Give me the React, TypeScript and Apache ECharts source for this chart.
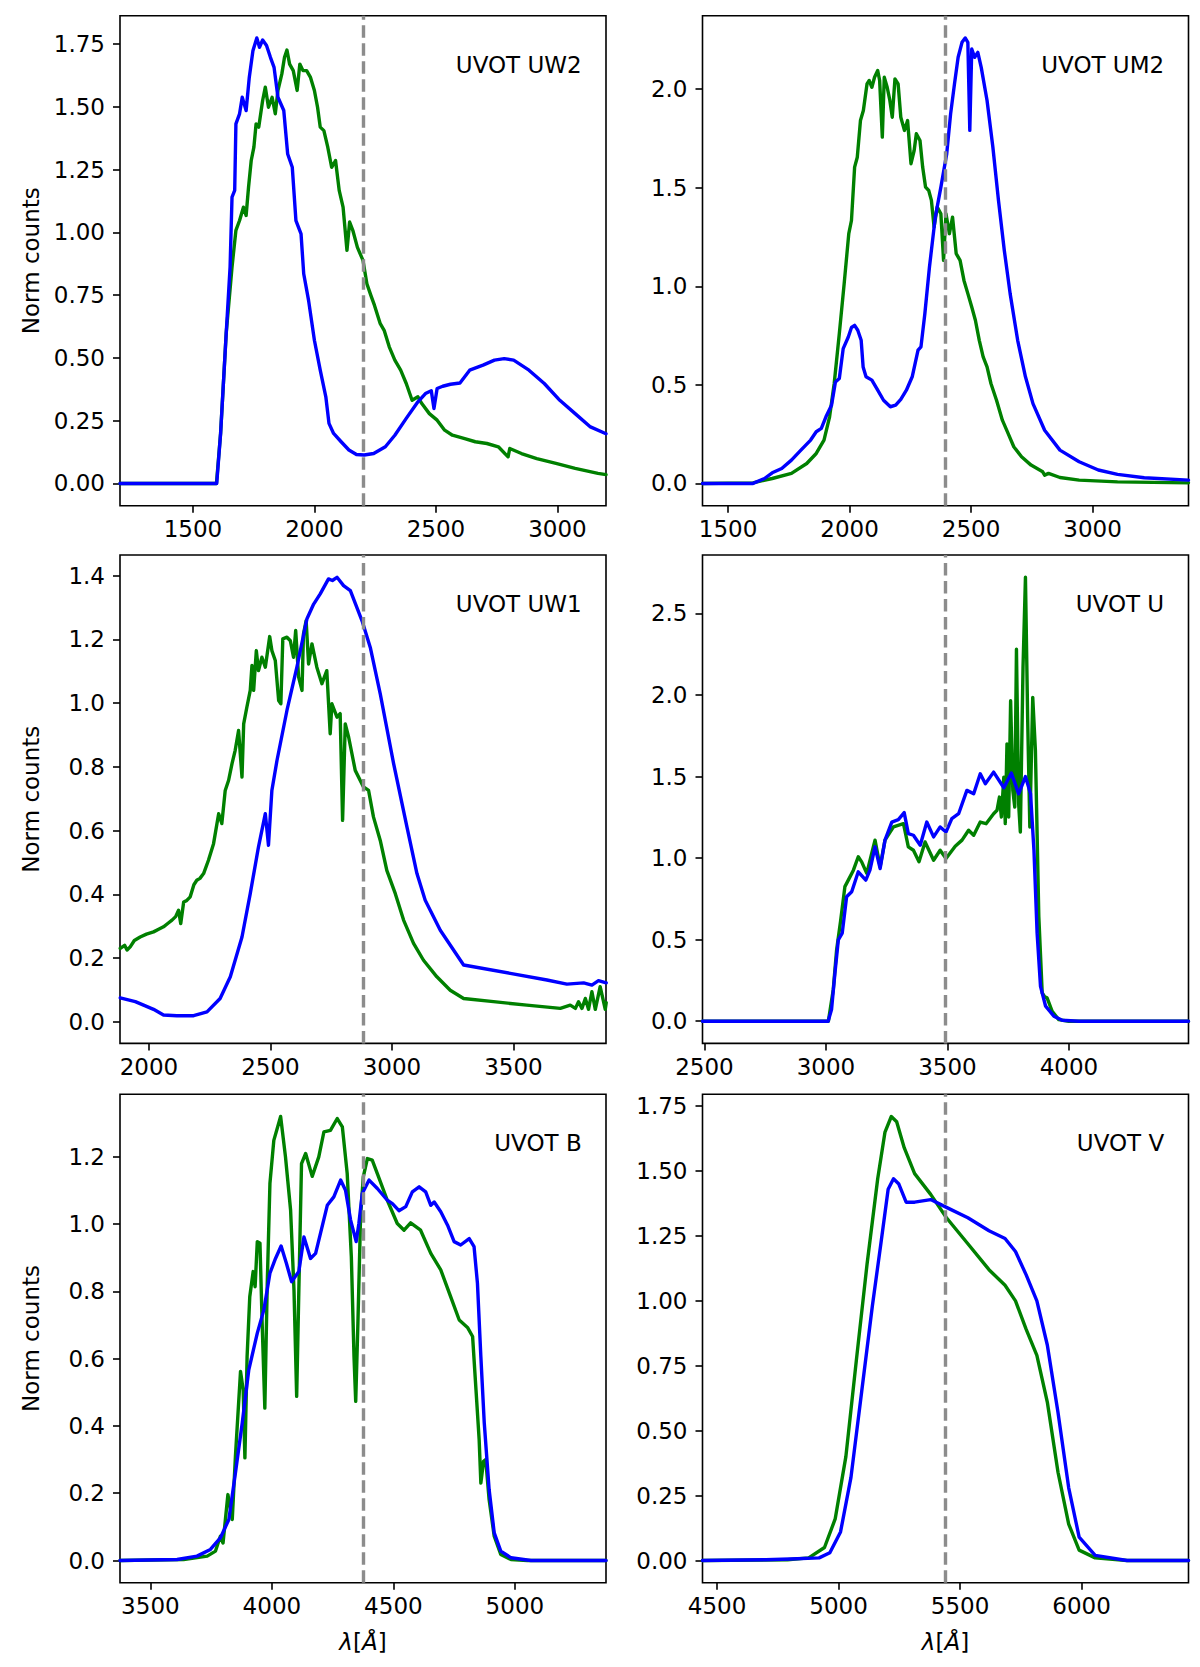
import React, { useEffect, useRef } from "react";
import * as echarts from "echarts";

type Pt = [number, number];

// ---------- panel descriptors ----------
const panelNames = ["UVOT UW2", "UVOT UM2", "UVOT UW1", "UVOT U", "UVOT B", "UVOT V"];
const centerWave = [2200, 2395, 2881, 3492, 4375, 5440];
const halfSpan = 1000;
const yMinValues = [-0.0887, -0.113, -0.068, -0.136, -0.066, -0.0855];
const yMaxValues = [1.8627, 2.373, 1.465, 2.858, 1.386, 1.7955];
const xTickValues = [
  [1500, 2000, 2500, 3000],
  [1500, 2000, 2500, 3000],
  [2000, 2500, 3000, 3500],
  [2500, 3000, 3500, 4000],
  [3500, 4000, 4500, 5000],
  [4500, 5000, 5500, 6000],
];
const yTickValues = [
  [0, 0.25, 0.5, 0.75, 1.0, 1.25, 1.5, 1.75],
  [0, 0.5, 1.0, 1.5, 2.0],
  [0, 0.2, 0.4, 0.6, 0.8, 1.0, 1.2, 1.4],
  [0, 0.5, 1.0, 1.5, 2.0, 2.5],
  [0, 0.2, 0.4, 0.6, 0.8, 1.0, 1.2],
  [0, 0.25, 0.5, 0.75, 1.0, 1.25, 1.5, 1.75],
];
const yDecimals = [2, 1, 1, 1, 1, 2];

// ---------- UW2 ----------
const uw2Green: Pt[] = [
  [1200, 0], [1597, 0], [1614, 0.199], [1637, 0.597], [1661, 0.862], [1677, 1.008], [1692, 1.047],
  [1708, 1.1], [1719, 1.067], [1729, 1.18], [1740, 1.286], [1751, 1.339], [1760, 1.432], [1771, 1.419],
  [1787, 1.525], [1798, 1.578], [1811, 1.498], [1826, 1.538], [1839, 1.472], [1850, 1.565], [1866, 1.631],
  [1877, 1.697], [1887, 1.726], [1898, 1.67], [1913, 1.644], [1929, 1.565], [1940, 1.67], [1953, 1.644],
  [1968, 1.644], [1984, 1.617], [2000, 1.565], [2013, 1.498], [2024, 1.419], [2039, 1.405], [2055, 1.339],
  [2071, 1.259], [2087, 1.286], [2102, 1.167], [2118, 1.1], [2134, 0.928], [2145, 1.041], [2158, 1.008],
  [2177, 0.94], [2200, 0.888], [2216, 0.795], [2232, 0.75], [2247, 0.71], [2271, 0.636], [2287, 0.61],
  [2308, 0.544], [2331, 0.491], [2355, 0.451], [2378, 0.398], [2402, 0.331], [2426, 0.345], [2442, 0.318],
  [2473, 0.278], [2505, 0.252], [2536, 0.212], [2568, 0.192], [2615, 0.179], [2662, 0.166], [2710, 0.159],
  [2757, 0.146], [2797, 0.106], [2804, 0.139], [2852, 0.119], [2915, 0.099], [2994, 0.08], [3073, 0.06],
  [3167, 0.04], [3200, 0.035],
];
const uw2Blue: Pt[] = [
  [1200, 0], [1598, 0], [1614, 0.199], [1637, 0.597], [1653, 0.862], [1661, 1.14], [1672, 1.167],
  [1677, 1.432], [1692, 1.472], [1703, 1.538], [1719, 1.485], [1732, 1.617], [1747, 1.723], [1763, 1.774],
  [1774, 1.737], [1787, 1.766], [1803, 1.744], [1819, 1.697], [1834, 1.657], [1850, 1.538], [1874, 1.485],
  [1890, 1.312], [1909, 1.259], [1924, 1.047], [1945, 0.994], [1956, 0.835], [1976, 0.729], [2000, 0.57],
  [2024, 0.451], [2047, 0.345], [2060, 0.239], [2079, 0.199], [2110, 0.166], [2142, 0.133], [2173, 0.115],
  [2205, 0.113], [2244, 0.119], [2292, 0.146], [2331, 0.192], [2378, 0.259], [2426, 0.325], [2457, 0.358],
  [2481, 0.369], [2492, 0.298], [2505, 0.378], [2528, 0.387], [2560, 0.395], [2599, 0.4], [2639, 0.451],
  [2694, 0.471], [2741, 0.491], [2781, 0.497], [2820, 0.491], [2883, 0.451], [2946, 0.398], [3010, 0.331],
  [3073, 0.278], [3136, 0.225], [3200, 0.198],
];

// ---------- UM2 ----------
const um2Green: Pt[] = [
  [1395, 0], [1603, 0.003], [1682, 0.025], [1761, 0.051], [1824, 0.101], [1863, 0.152], [1895, 0.22],
  [1918, 0.338], [1937, 0.507], [1958, 0.76], [1978, 1.014], [1997, 1.267], [2008, 1.334], [2021, 1.605],
  [2032, 1.655], [2045, 1.841], [2057, 1.892], [2072, 2.027], [2081, 2.044], [2092, 2.01], [2103, 2.061],
  [2116, 2.095], [2124, 2.044], [2135, 1.757], [2143, 2.061], [2155, 2.01], [2166, 1.943], [2176, 1.858],
  [2187, 2.052], [2200, 2.027], [2211, 1.858], [2226, 1.791], [2239, 1.841], [2253, 1.622], [2266, 1.689],
  [2275, 1.774], [2290, 1.74], [2301, 1.605], [2313, 1.503], [2326, 1.486], [2337, 1.436], [2348, 1.301],
  [2361, 1.402], [2376, 1.368], [2387, 1.132], [2397, 1.368], [2411, 1.267], [2424, 1.351], [2439, 1.166],
  [2455, 1.132], [2471, 1.03], [2487, 0.963], [2503, 0.895], [2518, 0.828], [2534, 0.726], [2550, 0.642],
  [2566, 0.591], [2582, 0.507], [2605, 0.422], [2629, 0.321], [2653, 0.253], [2676, 0.186], [2708, 0.135],
  [2747, 0.093], [2795, 0.059], [2803, 0.042], [2819, 0.051], [2866, 0.03], [2945, 0.017], [3103, 0.008],
  [3395, 0.003],
];
const um2Blue: Pt[] = [
  [1395, 0], [1603, 0], [1650, 0.025], [1682, 0.054], [1721, 0.076], [1761, 0.118], [1800, 0.169],
  [1840, 0.22], [1863, 0.262], [1884, 0.279], [1903, 0.338], [1926, 0.397], [1942, 0.515], [1958, 0.532],
  [1974, 0.684], [1995, 0.743], [2008, 0.791], [2021, 0.802], [2034, 0.777], [2048, 0.726], [2056, 0.591],
  [2068, 0.541], [2092, 0.524], [2116, 0.473], [2140, 0.422], [2168, 0.389], [2190, 0.397], [2211, 0.426],
  [2234, 0.473], [2258, 0.541], [2282, 0.676], [2294, 0.693], [2310, 0.861], [2329, 1.098], [2353, 1.351],
  [2376, 1.503], [2400, 1.672], [2416, 1.875], [2432, 2.027], [2447, 2.162], [2463, 2.238], [2476, 2.26],
  [2487, 2.238], [2495, 1.791], [2503, 2.204], [2515, 2.162], [2528, 2.187], [2542, 2.111], [2566, 1.943],
  [2590, 1.706], [2613, 1.436], [2637, 1.182], [2661, 0.963], [2692, 0.726], [2724, 0.541], [2755, 0.405],
  [2803, 0.27], [2866, 0.169], [2945, 0.11], [3024, 0.068], [3103, 0.046], [3213, 0.029], [3395, 0.017],
];

// ---------- UW1 ----------
const uw1Green: Pt[] = [
  [1882, 0.23], [1900, 0.24], [1910, 0.225], [1923, 0.235], [1940, 0.255], [1964, 0.266], [1990, 0.275],
  [2019, 0.282], [2040, 0.29], [2060, 0.298], [2080, 0.31], [2095, 0.319], [2110, 0.33], [2122, 0.35],
  [2131, 0.308], [2143, 0.376], [2155, 0.38], [2170, 0.392], [2185, 0.43], [2197, 0.444], [2210, 0.45],
  [2225, 0.465], [2245, 0.507], [2266, 0.559], [2287, 0.653], [2300, 0.622], [2314, 0.726], [2328, 0.758],
  [2342, 0.81], [2355, 0.852], [2369, 0.914], [2383, 0.768], [2390, 0.935], [2403, 0.987], [2417, 1.04],
  [2424, 1.118], [2431, 1.04], [2442, 1.165], [2451, 1.102], [2465, 1.144], [2479, 1.113], [2497, 1.209],
  [2506, 1.165], [2520, 1.134], [2534, 1.008], [2543, 0.998], [2551, 1.202], [2568, 1.207], [2582, 1.196],
  [2595, 1.144], [2604, 1.228], [2616, 1.082], [2630, 1.04], [2636, 1.217], [2647, 1.259], [2657, 1.123],
  [2671, 1.186], [2691, 1.113], [2712, 1.061], [2732, 1.102], [2746, 0.904], [2753, 0.998], [2774, 0.956],
  [2787, 0.967], [2797, 0.632], [2808, 0.935], [2822, 0.893], [2849, 0.789], [2883, 0.737], [2904, 0.726],
  [2924, 0.643], [2952, 0.569], [2979, 0.475], [3014, 0.402], [3048, 0.319], [3089, 0.246], [3130, 0.193],
  [3185, 0.141], [3240, 0.099], [3295, 0.073], [3418, 0.063], [3555, 0.052], [3693, 0.042], [3734, 0.052],
  [3755, 0.042], [3768, 0.063], [3782, 0.042], [3796, 0.073], [3809, 0.039], [3823, 0.094], [3837, 0.039],
  [3857, 0.11], [3878, 0.039], [3882, 0.06],
];
const uw1Blue: Pt[] = [
  [1882, 0.075], [1944, 0.063], [1978, 0.052], [2019, 0.039], [2060, 0.021], [2115, 0.019], [2184, 0.019],
  [2239, 0.031], [2293, 0.073], [2335, 0.141], [2383, 0.266], [2417, 0.402], [2451, 0.549], [2479, 0.653],
  [2492, 0.554], [2506, 0.726], [2527, 0.82], [2568, 0.977], [2609, 1.113], [2650, 1.264], [2678, 1.311],
  [2705, 1.343], [2739, 1.39], [2755, 1.385], [2774, 1.395], [2801, 1.369], [2829, 1.353], [2879, 1.254],
  [2911, 1.175], [2952, 1.029], [3007, 0.81], [3062, 0.611], [3103, 0.465], [3137, 0.381], [3199, 0.287],
  [3295, 0.178], [3487, 0.152], [3638, 0.131], [3720, 0.118], [3789, 0.122], [3823, 0.115], [3850, 0.129],
  [3882, 0.122],
];

// ---------- U ----------
const uGreen: Pt[] = [
  [2492, 0], [3010, 0], [3030, 0.193], [3044, 0.438], [3060, 0.611], [3078, 0.825], [3092, 0.865],
  [3113, 0.926], [3133, 1.008], [3147, 0.977], [3168, 0.906], [3185, 1.008], [3202, 1.11], [3223, 0.947],
  [3243, 1.11], [3278, 1.191], [3319, 1.211], [3339, 1.069], [3360, 1.048], [3383, 0.977], [3408, 1.099],
  [3443, 0.987], [3470, 1.048], [3494, 0.998], [3532, 1.073], [3560, 1.11], [3587, 1.171], [3608, 1.14],
  [3635, 1.221], [3659, 1.211], [3690, 1.272], [3704, 1.293], [3714, 1.374], [3722, 1.252], [3732, 1.496],
  [3738, 1.211], [3745, 1.7], [3752, 1.252], [3760, 1.965], [3769, 1.415], [3777, 1.313], [3784, 2.28],
  [3793, 1.333], [3800, 1.16], [3811, 2.168], [3821, 2.722], [3830, 1.863], [3839, 1.191], [3851, 1.985],
  [3862, 1.659], [3876, 0.641], [3890, 0.173], [3900, 0.15], [3910, 0.143], [3931, 0.061], [3958, 0.01],
  [4000, 0], [4492, 0],
];
const uBlue: Pt[] = [
  [2492, 0], [3009, 0], [3023, 0.071], [3037, 0.295], [3051, 0.499], [3067, 0.54], [3085, 0.763],
  [3106, 0.794], [3133, 0.916], [3164, 0.865], [3181, 0.926], [3202, 1.069], [3223, 0.936], [3243, 1.11],
  [3271, 1.221], [3298, 1.236], [3322, 1.279], [3339, 1.15], [3360, 1.14], [3388, 1.079], [3415, 1.221],
  [3443, 1.13], [3470, 1.191], [3494, 1.16], [3518, 1.242], [3546, 1.272], [3580, 1.415], [3608, 1.394],
  [3635, 1.517], [3656, 1.456], [3690, 1.527], [3732, 1.431], [3763, 1.521], [3793, 1.394], [3821, 1.5],
  [3842, 1.394], [3856, 1.048], [3869, 0.54], [3883, 0.214], [3904, 0.092], [3938, 0.031], [3972, 0.006],
  [4041, 0], [4492, 0],
];

// ---------- B ----------
const bGreen: Pt[] = [
  [3375, 0], [3637, 0.003], [3734, 0.013], [3768, 0.028], [3788, 0.072], [3799, 0.052], [3819, 0.196],
  [3837, 0.122], [3850, 0.31], [3871, 0.562], [3882, 0.507], [3889, 0.305], [3898, 0.606], [3909, 0.784],
  [3923, 0.859], [3931, 0.814], [3940, 0.948], [3951, 0.943], [3960, 0.705], [3971, 0.453], [3981, 0.824],
  [3992, 1.121], [4008, 1.249], [4036, 1.32], [4056, 1.2], [4077, 1.042], [4091, 0.804], [4102, 0.488],
  [4111, 0.804], [4122, 1.18], [4139, 1.21], [4166, 1.142], [4193, 1.2], [4214, 1.274], [4241, 1.279],
  [4269, 1.314], [4290, 1.289], [4310, 1.15], [4327, 0.903], [4338, 0.606], [4345, 0.473], [4354, 0.705],
  [4365, 1.022], [4376, 1.14], [4393, 1.195], [4413, 1.19], [4434, 1.15], [4475, 1.071], [4516, 1.002],
  [4544, 0.982], [4571, 1.004], [4612, 0.982], [4654, 0.913], [4695, 0.864], [4736, 0.784], [4771, 0.715],
  [4805, 0.693], [4826, 0.666], [4840, 0.507], [4853, 0.359], [4860, 0.23], [4871, 0.295], [4880, 0.3],
  [4894, 0.181], [4915, 0.072], [4942, 0.018], [4984, 0.003], [5052, 0], [5375, 0],
];
const bBlue: Pt[] = [
  [3375, 0], [3610, 0.003], [3692, 0.013], [3747, 0.033], [3788, 0.067], [3823, 0.122], [3850, 0.26],
  [3878, 0.409], [3905, 0.567], [3940, 0.676], [3967, 0.745], [3992, 0.854], [4015, 0.898], [4038, 0.935],
  [4060, 0.883], [4081, 0.829], [4111, 0.859], [4132, 0.962], [4159, 0.898], [4180, 0.913], [4228, 1.056],
  [4255, 1.081], [4283, 1.131], [4303, 1.101], [4324, 1.012], [4347, 0.948], [4358, 1.002], [4372, 1.091],
  [4400, 1.131], [4434, 1.106], [4475, 1.071], [4496, 1.061], [4523, 1.04], [4551, 1.052], [4578, 1.096],
  [4606, 1.111], [4633, 1.096], [4654, 1.056], [4668, 1.066], [4695, 1.037], [4723, 0.997], [4750, 0.948],
  [4777, 0.938], [4812, 0.957], [4832, 0.933], [4846, 0.824], [4860, 0.606], [4874, 0.409], [4894, 0.211],
  [4915, 0.082], [4942, 0.028], [4984, 0.008], [5066, 0], [5375, 0],
];

// ---------- V ----------
const vGreen: Pt[] = [
  [4440, 0], [4790, 0.003], [4877, 0.01], [4942, 0.05], [4986, 0.16], [5030, 0.4], [5073, 0.77],
  [5117, 1.14], [5161, 1.47], [5191, 1.65], [5217, 1.71], [5239, 1.69], [5270, 1.59], [5313, 1.49],
  [5379, 1.41], [5444, 1.32], [5532, 1.22], [5619, 1.12], [5685, 1.06], [5728, 1.0], [5772, 0.89],
  [5816, 0.79], [5859, 0.61], [5903, 0.34], [5947, 0.14], [5990, 0.04], [6056, 0.01], [6187, 0], [6440, 0],
];
const vBlue: Pt[] = [
  [4440, 0], [4700, 0.003], [4800, 0.006], [4920, 0.01], [4964, 0.03], [5008, 0.11], [5051, 0.32],
  [5095, 0.65], [5139, 0.98], [5174, 1.22], [5204, 1.43], [5226, 1.47], [5248, 1.45], [5278, 1.38],
  [5313, 1.38], [5379, 1.39], [5444, 1.36], [5532, 1.32], [5619, 1.27], [5685, 1.24], [5728, 1.19],
  [5772, 1.1], [5816, 1.0], [5859, 0.83], [5903, 0.57], [5947, 0.28], [5990, 0.09], [6056, 0.02],
  [6187, 0], [6440, 0],
];

const greenSeries = [uw2Green, um2Green, uw1Green, uGreen, bGreen, vGreen];
const blueSeries = [uw2Blue, um2Blue, uw1Blue, uBlue, bBlue, vBlue];

// ---------- layout ----------
const W = 1200;
const H = 1667;
const colLeft = [120, 702.5];
const panelWidth = 486;
const rowTop = [15.7, 555, 1094.3];
const rowHeight = [490, 488.4, 488.4];
const FONT = "DejaVu Sans";
const FS = 23;
const LW = 3.4;

function buildOption() {
  const grid: any[] = [];
  const xAxis: any[] = [];
  const yAxis: any[] = [];
  const series: any[] = [];
  const graphic: any[] = [];

  for (let i = 0; i < 6; i++) {
    const col = i % 2;
    const row = Math.floor(i / 2);
    const left = colLeft[col];
    const top = rowTop[row];
    const height = rowHeight[row];
    grid.push({
      left,
      top,
      width: panelWidth,
      height,
      show: true,
      borderColor: "#000",
      borderWidth: 1.6,
      backgroundColor: "transparent",
      containLabel: false,
      outerBoundsMode: "none",
    });
    const c = centerWave[i];
    const xa: any = {
      type: "value",
      gridIndex: i,
      min: c - halfSpan,
      max: c + halfSpan,
      axisLine: { show: false, onZero: false },
      axisTick: {
        show: true,
        inside: false,
        length: 7,
        customValues: xTickValues[i],
        lineStyle: { color: "#000", width: 1.6 },
      },
      axisLabel: {
        show: true,
        customValues: xTickValues[i],
        formatter: (v: number) => String(v),
        fontSize: FS,
        color: "#000",
        fontFamily: FONT,
        margin: 12,
      },
      splitLine: { show: false },
    };
    if (row === 2) {
      xa.name = "{i|λ}[{i|Å}]";
      xa.nameLocation = "middle";
      xa.nameGap = 48;
      xa.nameTextStyle = {
        fontSize: FS,
        color: "#000",
        fontFamily: FONT,
        rich: { i: { fontStyle: "italic", fontSize: FS, color: "#000", fontFamily: FONT } },
      };
    }
    xAxis.push(xa);
    const dec = yDecimals[i];
    const ya: any = {
      type: "value",
      gridIndex: i,
      min: yMinValues[i],
      max: yMaxValues[i],
      axisLine: { show: false, onZero: false },
      axisTick: {
        show: true,
        inside: false,
        length: 7,
        customValues: yTickValues[i],
        lineStyle: { color: "#000", width: 1.6 },
      },
      axisLabel: {
        show: true,
        customValues: yTickValues[i],
        formatter: (v: number) => Number(v).toFixed(dec),
        fontSize: FS,
        color: "#000",
        fontFamily: FONT,
        margin: 15,
      },
      splitLine: { show: false },
    };
    if (col === 0) {
      ya.name = "Norm counts";
      ya.nameLocation = "middle";
      ya.nameGap = 78;
      ya.nameTextStyle = { fontSize: FS, color: "#000", fontFamily: FONT };
    }
    yAxis.push(ya);

    series.push({
      type: "line",
      xAxisIndex: i,
      yAxisIndex: i,
      data: greenSeries[i],
      showSymbol: false,
      symbol: "none",
      silent: true,
      clip: true,
      lineStyle: { color: "#008000", width: LW, join: "round", cap: "round" },
      itemStyle: { color: "#008000" },
      z: 2,
    });
    series.push({
      type: "line",
      xAxisIndex: i,
      yAxisIndex: i,
      data: blueSeries[i],
      showSymbol: false,
      symbol: "none",
      silent: true,
      clip: true,
      lineStyle: { color: "#0000ff", width: LW, join: "round", cap: "round" },
      itemStyle: { color: "#0000ff" },
      z: 3,
      markLine: {
        silent: true,
        symbol: ["none", "none"],
        animation: false,
        label: { show: false },
        lineStyle: { color: "#8c8c8c", type: [12.5, 5.5], width: LW, cap: "butt" },
        emphasis: { disabled: true },
        data: [{ xAxis: c }],
      },
    });

    graphic.push({
      type: "text",
      x: left + 0.95 * panelWidth,
      y: top + 0.1 * height,
      silent: true,
      style: {
        text: panelNames[i],
        fill: "#000",
        fontSize: FS,
        fontFamily: FONT,
        align: "right",
        verticalAlign: "middle",
      },
    });
  }

  return {
    animation: false,
    backgroundColor: "#fff",
    textStyle: { fontFamily: FONT },
    grid,
    xAxis,
    yAxis,
    series,
    graphic,
  };
}

export default function App() {
  const ref = useRef<HTMLDivElement | null>(null);
  useEffect(() => {
    if (!ref.current) return;
    const chart = echarts.init(ref.current, null, { renderer: "svg", width: W, height: H });
    chart.setOption(buildOption() as any);
    return () => {
      chart.dispose();
    };
  }, []);
  return (
    <div
      ref={ref}
      style={{ position: "absolute", left: 0, top: 0, width: W, height: H, background: "#fff" }}
    />
  );
}
